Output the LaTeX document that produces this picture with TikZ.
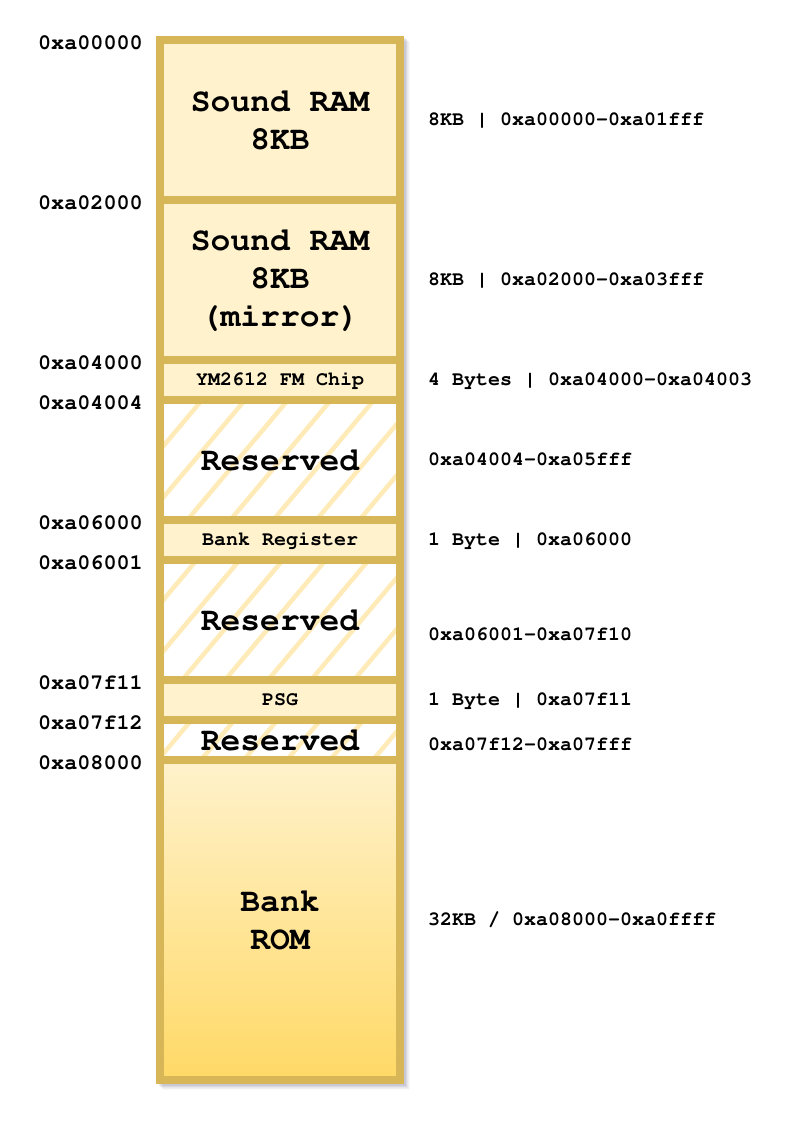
\documentclass[tikz,border=0pt]{standalone}
\usepackage[T1]{fontenc}
\definecolor{brd}{HTML}{D6B656}
\definecolor{fil}{HTML}{FFF2CC}
\definecolor{gold}{HTML}{FFD966}
\definecolor{hatchc}{HTML}{FFEBB8}
\tikzset{
  box/.style={draw=brd, line width=8pt, fill=fil, minimum width=240pt, inner sep=0pt,
    align=center, font=\fontfamily{pcr}\bfseries\fontsize{33}{38}\selectfont},
  smallbox/.style={box, font=\fontfamily{pcr}\bfseries\fontsize{20}{24}\selectfont},
  resbox/.style={box, fill=none},
  addr/.style={anchor=east, inner sep=0pt, text height=12.4pt, text depth=0pt,
    font=\fontfamily{pcr}\bfseries\fontsize{21.8}{24}\selectfont},
  info/.style={anchor=west, inner sep=0pt, text height=11.5pt, text depth=0pt,
    font=\fontfamily{pcr}\bfseries\fontsize{20}{24}\selectfont},
  hatchline/.style={draw=hatchc, line width=4.5pt},
}
\begin{document}
\begin{tikzpicture}[x=1pt,y=-1pt]
\useasboundingbox[fill=white] (0,0) rectangle (797,1121);
% column shadow
\foreach \o/\op in {2/0.10,3/0.08,4/0.06,5/0.05,6/0.03}
  \fill[black!60!blue!40!gray, opacity=\op] (157+\o,36+\o) rectangle (404+\o,1084+\o);
% hatched backgrounds
\foreach \ya/\yb in {400/520,560/680,720/760}{
  \begin{scope}
    \clip (160,\ya) rectangle (400,\yb);
    \fill[white] (160,\ya) rectangle (400,\yb);
    \foreach \k in {-6,...,16}
      \draw[hatchline] ({537.6+43*\k-0.839*380},380) -- ({537.6+43*\k-0.839*800},800);
  \end{scope}
}
% boxes
\node[box, minimum height=160pt] (ram1) at (280,120) {Sound RAM\\8KB};
\node[box, minimum height=160pt] (ram2) at (280,280) {Sound RAM\\8KB\\(mirror)};
\node[smallbox, minimum height=40pt] (ym) at (280,380) {YM2612 FM Chip};
\node[resbox, minimum height=120pt] (res1) at (280,460) {Reserved};
\node[smallbox, minimum height=40pt] (bankreg) at (280,540) {Bank Register};
\node[resbox, minimum height=120pt] (res2) at (280,620) {Reserved};
\node[smallbox, minimum height=40pt] (psg) at (280,700) {PSG};
\node[resbox, minimum height=40pt] (res3) at (280,740) {Reserved};
\node[box, minimum height=320pt, top color=fil, bottom color=gold] (rom) at (280,920) {Bank\\ROM};
% addresses
\node[addr] (a0) at (143,43) {0xa00000};
\node[addr] (a1) at (143,203) {0xa02000};
\node[addr] (a2) at (143,363) {0xa04000};
\node[addr] (a3) at (143,403) {0xa04004};
\node[addr] (a4) at (143,523) {0xa06000};
\node[addr] (a5) at (143,563) {0xa06001};
\node[addr] (a6) at (143,683) {0xa07f11};
\node[addr] (a7) at (143,723) {0xa07f12};
\node[addr] (a8) at (143,763) {0xa08000};
% descriptions
\node[info] (i0) at (428,120) {8KB | 0xa00000-0xa01fff};
\node[info] (i1) at (428,280) {8KB | 0xa02000-0xa03fff};
\node[info] (i2) at (428,380) {4 Bytes | 0xa04000-0xa04003};
\node[info] (i3) at (428,460) {0xa04004-0xa05fff};
\node[info] (i4) at (428,540) {1 Byte | 0xa06000};
\node[info] (i5) at (428,635) {0xa06001-0xa07f10};
\node[info] (i6) at (428,700) {1 Byte | 0xa07f11};
\node[info] (i7) at (428,745) {0xa07f12-0xa07fff};
\node[info] (i8) at (428,920) {32KB / 0xa08000-0xa0ffff};
\end{tikzpicture}
\end{document}
